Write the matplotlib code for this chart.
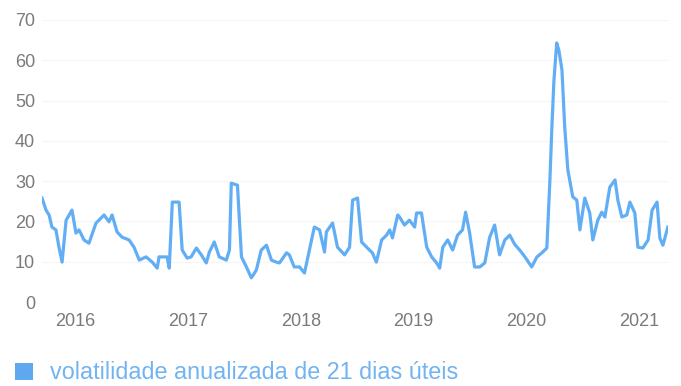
import matplotlib
matplotlib.use("Agg")
import matplotlib.pyplot as plt
import matplotlib.dates as mdates
from matplotlib.patches import Patch
import pandas as pd

plt.rcParams['font.family'] = ['Liberation Sans', 'DejaVu Sans']

# 21-day annualized volatility
dates = [
    "2015-09-16", "2015-09-29", "2015-10-09", "2015-10-18", "2015-10-31", "2015-11-10",
    "2015-11-20", "2015-12-03", "2015-12-22", "2016-01-04", "2016-01-14", "2016-01-30",
    "2016-02-15", "2016-03-09", "2016-04-04", "2016-04-20", "2016-04-30", "2016-05-16",
    "2016-06-01", "2016-06-24", "2016-07-10", "2016-07-27", "2016-08-18", "2016-09-07",
    "2016-09-23", "2016-09-29", "2016-10-25", "2016-11-01", "2016-11-11", "2016-12-03",
    "2016-12-13", "2016-12-29", "2017-01-11", "2017-01-28", "2017-02-13", "2017-03-01",
    "2017-03-11", "2017-03-27", "2017-04-12", "2017-05-05", "2017-05-15", "2017-05-21",
    "2017-06-10", "2017-06-23", "2017-07-09", "2017-07-25", "2017-08-10", "2017-08-26",
    "2017-09-12", "2017-09-28", "2017-10-14", "2017-10-24", "2017-11-16", "2017-11-25",
    "2017-12-11", "2017-12-28", "2018-01-13", "2018-01-29", "2018-02-14", "2018-03-03",
    "2018-03-19", "2018-03-25", "2018-04-14", "2018-04-30", "2018-05-23", "2018-06-08",
    "2018-06-18", "2018-07-04", "2018-07-17", "2018-08-05", "2018-08-21", "2018-09-03",
    "2018-09-20", "2018-10-06", "2018-10-16", "2018-10-25", "2018-11-11", "2018-11-17",
    "2018-12-03", "2018-12-19", "2019-01-05", "2019-01-11", "2019-01-27", "2019-02-13",
    "2019-03-01", "2019-03-17", "2019-03-27", "2019-04-06", "2019-04-22", "2019-05-08",
    "2019-05-24", "2019-06-09", "2019-06-19", "2019-07-02", "2019-07-18", "2019-08-04",
    "2019-08-20", "2019-09-05", "2019-09-21", "2019-10-07", "2019-10-24", "2019-11-09",
    "2019-11-25", "2019-12-11", "2019-12-28", "2020-01-19", "2020-02-05", "2020-02-21",
    "2020-03-08", "2020-03-18", "2020-03-24", "2020-03-31", "2020-04-09", "2020-04-16",
    "2020-04-26", "2020-05-05", "2020-05-15", "2020-05-31", "2020-06-13", "2020-06-23",
    "2020-07-09", "2020-07-25", "2020-08-04", "2020-08-20", "2020-09-02", "2020-09-12",
    "2020-09-28", "2020-10-15", "2020-10-24", "2020-11-06", "2020-11-22", "2020-12-02",
    "2020-12-18", "2020-12-28", "2021-01-13", "2021-01-30", "2021-02-12", "2021-02-28",
    "2021-03-09", "2021-03-19", "2021-04-04",
]
vol = [
    25.8, 22.8, 21.6, 18.6, 17.9, 13.6,
    9.9, 20.3, 22.8, 17.1, 17.9, 15.4,
    14.6, 19.6, 21.6, 19.9, 21.6, 17.4,
    16.1, 15.4, 13.6, 10.4, 11.2, 9.9,
    8.4, 11.2, 11.2, 8.4, 24.8, 24.8,
    12.9, 10.9, 11.2, 13.4, 11.7, 9.7,
    12.4, 14.9, 11.2, 10.4, 12.9, 29.5,
    29.0, 11.2, 8.7, 6.0, 7.9, 12.9,
    14.1, 10.4, 9.9, 9.7, 12.2, 11.7,
    8.7, 8.7, 7.2, 12.9, 18.6, 17.9,
    12.4, 17.4, 19.6, 13.6, 11.7, 13.6,
    25.3, 25.8, 14.9, 13.4, 12.2, 9.9,
    15.4, 16.6, 17.9, 15.9, 21.6, 21.1,
    19.1, 20.3, 18.6, 22.1, 22.1, 13.6,
    11.2, 9.7, 8.4, 13.6, 15.4, 12.9,
    16.6, 17.9, 22.3, 17.1, 8.7, 8.7,
    9.7, 16.1, 19.1, 11.7, 15.4, 16.6,
    14.3, 12.9, 11.2, 8.7, 11.2, 12.2,
    13.4, 30.3, 42.7, 55.0, 64.3, 62.5,
    57.6, 43.4, 32.8, 26.1, 25.3, 17.9,
    25.8, 22.1, 15.4, 20.3, 22.3, 21.1,
    28.5, 30.3, 25.3, 21.1, 21.6, 24.8,
    22.1, 13.6, 13.4, 15.4, 22.8, 24.8,
    15.9, 14.1, 18.6,
]
y_ticks = [0, 10, 20, 30, 40, 50, 60, 70]
series_label = "volatilidade anualizada de 21 dias úteis"

line_color = "#62aef5"
tick_color = "#7a7a7a"

x = pd.to_datetime(dates)

fig = plt.figure(figsize=(6.81, 3.86), dpi=100)
ax = fig.add_axes([0.0617, 0.2176, 0.919, 0.7306])

ax.plot(x, vol, color=line_color, lw=2.3, solid_joinstyle='round')

ax.set_xlim(x[0], x[-1])
ax.set_ylim(0, 70)
ax.set_yticks(y_ticks)
ax.xaxis.set_major_locator(mdates.YearLocator())
ax.xaxis.set_major_formatter(mdates.DateFormatter('%Y'))

for s in ax.spines.values():
    s.set_visible(False)
ax.tick_params(axis='both', length=0, colors=tick_color, labelsize=13)
ax.tick_params(axis='y', pad=5)
ax.tick_params(axis='x', pad=8)
ax.grid(axis='y', color='#f5f5f5', lw=0.8)
ax.set_axisbelow(True)

# legend: square swatch + label along the bottom
handle = Patch(facecolor="#5ea8f0", edgecolor="none", label=series_label)
leg = fig.legend(handles=[handle], loc='center left', bbox_to_anchor=(0.022, 0.034),
                 frameon=False, fontsize=16.8, handlelength=0.77, handleheight=0.77,
                 handletextpad=0.72, borderpad=0, borderaxespad=0)
for t in leg.get_texts():
    t.set_color("#72b3f2")

fig.savefig("out.png", dpi=100)
